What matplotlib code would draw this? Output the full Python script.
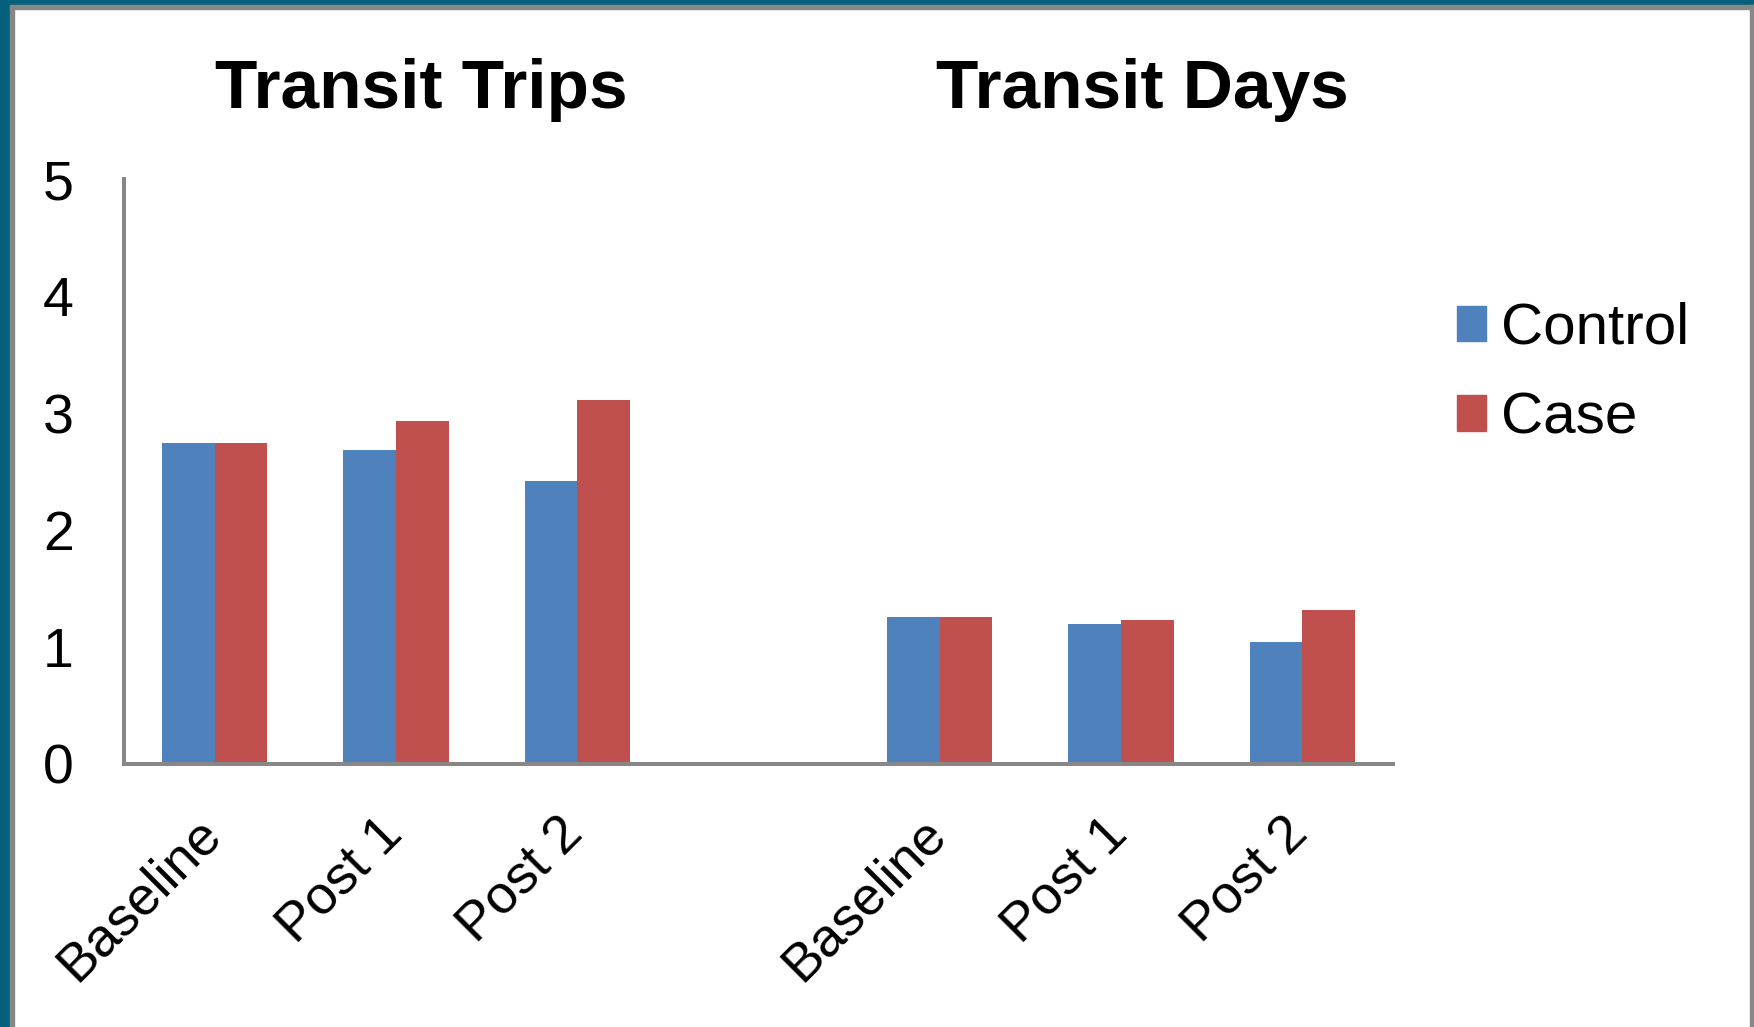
import numpy as np
import matplotlib.pyplot as plt
import matplotlib.transforms as mtransforms
from matplotlib.patches import Rectangle, Patch

plt.rcParams['font.family'] = ['Liberation Sans', 'DejaVu Sans']

# values
periods = ['Baseline', 'Post 1', 'Post 2']
trips_control = [2.74, 2.68, 2.42]
trips_case = [2.74, 2.93, 3.11]
days_control = [1.26, 1.20, 1.04]
days_case = [1.26, 1.23, 1.32]
series_names = ['Control', 'Case']
panel_titles = ['Transit Trips', 'Transit Days']

blue = '#4F81BD'
red = '#C0504D'
grey = '#878787'
teal = '#05607B'

fig = plt.figure(figsize=(17.54, 10.27), dpi=100)

# teal/grey frame like the slide border
fig.patches.append(Rectangle((0, 0), 10 / 1754, 1, transform=fig.transFigure, color=teal, zorder=0))
fig.patches.append(Rectangle((10 / 1754, 0), 4 / 1754, 1 - 5 / 1027, transform=fig.transFigure, color=grey, zorder=0))
fig.patches.append(Rectangle((0, 1 - 5 / 1027), 1, 5 / 1027, transform=fig.transFigure, color=teal, zorder=0))
fig.patches.append(Rectangle((10 / 1754, 1 - 9 / 1027), 1, 4 / 1027, transform=fig.transFigure, color=grey, zorder=0))
fig.patches.append(Rectangle((1 - 4 / 1754, 0), 4 / 1754, 1 - 5 / 1027, transform=fig.transFigure, color=grey, zorder=0))

ax = fig.add_axes([124 / 1754, 263 / 1027, 1269 / 1754, 585 / 1027])

# 7 category slots: 3 for trips, one empty gap, 3 for days
x_trips = np.arange(3)
x_days = np.arange(4, 7)
w = 0.29

ax.bar(x_trips - w / 2, trips_control, w, color=blue)
ax.bar(x_trips + w / 2, trips_case, w, color=red)
ax.bar(x_days - w / 2, days_control, w, color=blue)
ax.bar(x_days + w / 2, days_case, w, color=red)

ax.set_xlim(-0.5, 6.5)
ax.set_ylim(0, 5)
ax.set_yticks(range(6))
ax.set_xticks(list(x_trips) + list(x_days))
ax.set_xticklabels(periods + periods, rotation=45, ha='right', va='top')
ax.tick_params(axis='y', length=0, pad=36, labelsize=40)
ax.tick_params(axis='x', length=0, pad=32, labelsize=39)

# nudge the slanted labels a little to the right, as in the original
shift = mtransforms.ScaledTranslation(16 / 100, 0, fig.dpi_scale_trans)
for lab in ax.get_xticklabels():
    lab.set_transform(lab.get_transform() + shift)

for s in ['top', 'right']:
    ax.spines[s].set_visible(False)
for s in ['left', 'bottom']:
    ax.spines[s].set_color(grey)
    ax.spines[s].set_linewidth(2.9)

fig.text(421 / 1754, 1 - 108 / 1027, panel_titles[0], ha='center', va='baseline',
         fontsize=50, fontweight='bold')
fig.text(1142 / 1754, 1 - 108 / 1027, panel_titles[1], ha='center', va='baseline',
         fontsize=50, fontweight='bold')

handles = [Patch(color=blue), Patch(color=red)]
fig.legend(handles, series_names, loc='upper left', bbox_to_anchor=(1457 / 1754, 1 - 302 / 1027),
           frameon=False, fontsize=42, handlelength=0.5, handleheight=0.55,
           handletextpad=0.25, labelspacing=0.61, borderpad=0, borderaxespad=0)

fig.savefig('out.png', dpi=100, facecolor='white')
